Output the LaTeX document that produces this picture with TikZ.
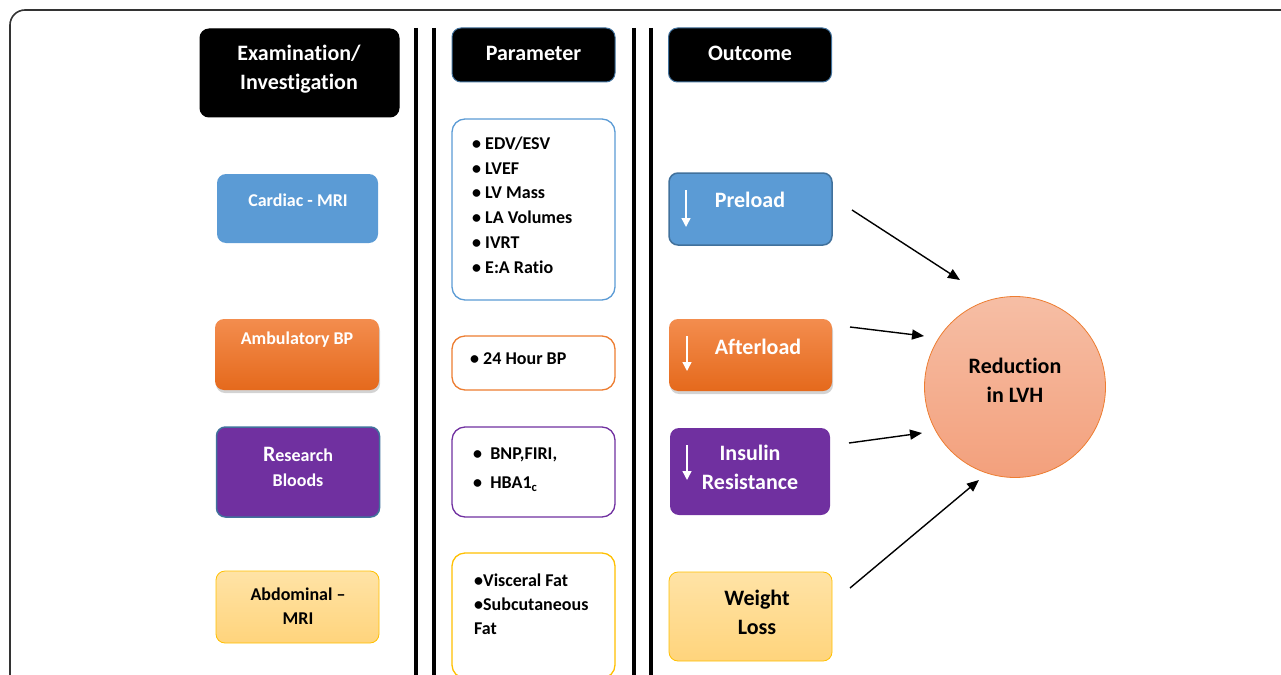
\documentclass[tikz,border=0pt]{standalone}
\usepackage{fontspec}
\setmainfont{Carlito}[Ligatures=NoCommon]
\usetikzlibrary{shadows,arrows.meta}

\definecolor{mriblue}{HTML}{5B9BD5}
\definecolor{edgeblue}{HTML}{41719C}
\definecolor{bporange}{HTML}{ED7D31}
\definecolor{orangetop}{HTML}{F38D4E}
\definecolor{orangebot}{HTML}{E5691C}
\definecolor{bloodpurple}{HTML}{7030A0}
\definecolor{fatyellow}{HTML}{FFC000}
\definecolor{yellowtop}{HTML}{FFE3A6}
\definecolor{yellowbot}{HTML}{FFD47C}
\definecolor{lvhtop}{HTML}{F6BEA5}
\definecolor{lvhbot}{HTML}{F3A07C}

\begin{document}
\begin{tikzpicture}[x=1pt, y=-1pt,
  every node/.style={inner sep=0pt, font=\bfseries},
  headbox/.style={fill=black, draw=edgeblue, line width=1pt, rounded corners=9pt, minimum width=163pt, minimum height=54pt},
  tile/.style={rounded corners=9pt, minimum width=163pt, minimum height=71pt},
  listbox/.style={draw, fill=white, line width=1.3pt, rounded corners=13pt, minimum width=163pt},
  orangefill/.style={top color=orangetop, bottom color=orangebot, drop shadow={shadow xshift=1pt, shadow yshift=-3pt, opacity=0.35}},
  yellowfill/.style={top color=yellowtop, bottom color=yellowbot, draw=fatyellow, line width=0.8pt},
  bigtext/.style={align=center, font=\bfseries\fontsize{22}{29}\selectfont},
  smalltext/.style={align=center, font=\bfseries\fontsize{18}{25}\selectfont},
  listtext/.style={anchor=west, align=left, font=\bfseries\fontsize{18}{24.8}\selectfont},
  down/.style={white, line width=1.4pt, -{Triangle[length=9pt, width=9pt]}},
  link/.style={line width=1.4pt, -{Triangle[length=12pt, width=10pt]}}
]
\useasboundingbox (0,0) rectangle (1281,674);
\clip (0,0) rectangle (1281,674);

% frame and column rules
\draw[rounded corners=15pt, line width=1.6pt, black!80] (10,700) -- (10,10) -- (1300,10);
\foreach \xpos in {416,434,634,651}
  \draw[line width=4pt] (\xpos,28) -- (\xpos,690);

% headers
\node[headbox, draw=black, minimum width=199pt, minimum height=88pt] (examhead) at (299.5,73) {};
\node[bigtext, text=white] (examtxt) at (299,69.5) {Examination/\\Investigation};
\node[headbox] (paramhead) at (533.5,55) {};
\node[bigtext, text=white] (paramtxt) at (533.5,53) {Parameter};
\node[headbox] (outhead) at (750,55) {};
\node[bigtext, text=white] (outtxt) at (750,53) {Outcome};

% examinations
\node[tile, fill=mriblue, minimum width=161pt, minimum height=69pt] (cardiac) at (297.5,208.5) {};
\node[smalltext, text=white] (cardiactxt) at (298,200) {Cardiac - MRI};
\node[tile, orangefill, minimum width=164pt] (amb) at (297,354.5) {};
\node[smalltext, text=white] (ambtxt) at (297,340) {Ambulatory BP};
\node[tile, fill=bloodpurple, draw=edgeblue, line width=1.5pt, minimum height=90pt] (blood) at (298,472) {};
\node[smalltext, text=white] (bloodtxt) at (298,467) {{\fontsize{22}{25}\selectfont R}esearch\\Bloods};
\node[tile, yellowfill, minimum height=72pt] (abd) at (297.5,607) {};
\node[smalltext, text=black, font=\bfseries\fontsize{18}{24}\selectfont] (abdtxt) at (298,606) {Abdominal --\\MRI};

% parameters
\node[listbox, draw=mriblue, minimum height=181pt] (mrilist) at (533.5,209.5) {};
\node[listtext] (mriitems) at (472,205) {\textbullet\ EDV/ESV\\\textbullet\ LVEF\\\textbullet\ LV Mass\\\textbullet\ LA Volumes\\\textbullet\ IVRT\\\textbullet\ E:A Ratio};
\node[listbox, draw=bporange, minimum height=54pt] (bplist) at (533.5,363) {};
\node[listtext] (bpitems) at (470,359) {\textbullet\ 24 Hour BP};
\node[listbox, draw=bloodpurple, minimum height=90pt] (bloodlist) at (533.5,472) {};
\node[listtext, font=\bfseries\fontsize{18}{29}\selectfont] (blooditems) at (473,470) {\textbullet\ \ BNP,FIRI,\\\textbullet\ \ HBA1\textsubscript{c}};
\node[listbox, draw=fatyellow, minimum height=125pt] (fatlist) at (533.5,615.5) {};
\node[listtext, font=\bfseries\fontsize{18}{24}\selectfont] (fatitems) at (474,604) {\textbullet Visceral Fat\\\textbullet Subcutaneous\\Fat};

% outcomes
\node[tile, fill=mriblue, draw=edgeblue, line width=1.5pt, minimum height=72pt] (preload) at (750.5,209) {};
\node[bigtext, text=white] (preloadtxt) at (750,200) {Preload};
\draw[down] (686,190) -- (686,227);
\node[tile, orangefill, minimum height=72pt] (afterload) at (750.5,355) {};
\node[bigtext, text=white] (afterloadtxt) at (758,347) {Afterload};
\draw[down] (687,336) -- (687,371);
\node[tile, fill=bloodpurple, minimum width=160pt, minimum height=87pt] (insulin) at (750,471.5) {};
\node[bigtext, text=white] (insulintxt) at (750,467) {Insulin\\Resistance};
\draw[down] (687,445) -- (687,480);
\node[tile, yellowfill, minimum height=89pt] (weight) at (750.5,616.5) {};
\node[bigtext, text=black] (weighttxt) at (757,612) {Weight\\Loss};

% result
\node[circle, draw=bporange, line width=0.8pt, top color=lvhtop, bottom color=lvhbot, minimum size=181pt] (lvh) at (1015,387) {};
\node[bigtext] (lvhtxt) at (1015,380) {Reduction\\in LVH};

\coordinate (s1) at (852,210); \coordinate (t1) at (960,280);
\coordinate (s2) at (850,327); \coordinate (t2) at (924,336);
\coordinate (s3) at (849,443); \coordinate (t3) at (922,433);
\coordinate (s4) at (850,588); \coordinate (t4) at (979,480);
\foreach \i in {1,...,4}
  \draw[link] (s\i) -- (t\i);
\end{tikzpicture}
\end{document}
